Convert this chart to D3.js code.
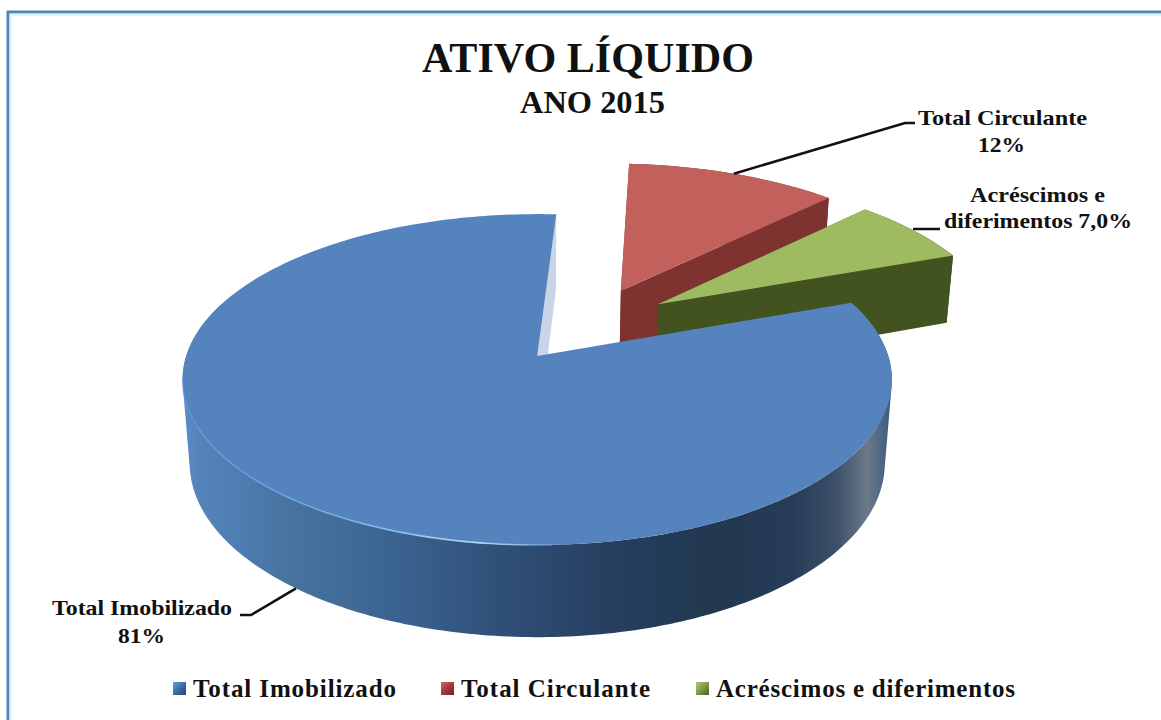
<!DOCTYPE html>
<html>
<head>
<meta charset="utf-8">
<script src="https://cdn.jsdelivr.net/npm/d3@7"></script>
<style>
    html, body { margin: 0; padding: 0; background: #fff; }
    svg { display: block; }
    text { font-family: "Liberation Serif", serif; font-weight: bold; fill: #111; }
</style>
</head>
<body>
<svg width="1161" height="720"></svg>
<script>
var categories = ["Total Imobilizado", "Total Circulante", "Acréscimos e diferimentos"];
// slice sizes as measured on the picture, the printed labels are rounded
var shares = [81.6, 11.6, 6.8];
var shareLabels = ["81%", "12%", "7,0%"];
var titleText = "ATIVO LÍQUIDO";
var subtitleText = "ANO 2015";

var topColors = ["#5583bd", "#c2605c", "#9ebb62"];
var wallColors = ["#c9d5e6", "#7f3331", "#43531f"];

// the picture is a real perspective view, so project the disc instead of using flat ellipses
var focal = 2194, distance = 6.25, tilt = 27.5 * Math.PI / 180, explode = 0.25;
var depths = [0.272, 0.272, 0.235];
var originX = 537, originY = 356, shiftX = 0.15, shiftY = 0.2;
var firstAngle = 69.8 * Math.PI / 180;

function project(x, y, z) {
    var px = x + shiftX, py = y + shiftY;
    var w = distance + py * Math.cos(tilt) - z * Math.sin(tilt);
    var v = py * Math.sin(tilt) + z * Math.cos(tilt);
    return [originX + focal * px / w, originY - focal * v / w];
}

var pie = d3.pie().sort(null)
    .startAngle(firstAngle)
    .endAngle(firstAngle + 2 * Math.PI);
var slices = pie(shares);
var line = d3.line();

function centerOf(s) {
    var mid = (s.startAngle + s.endAngle) / 2;
    return [explode * Math.sin(mid), explode * Math.cos(mid)];
}

function rimPoint(s, a, z) {
    var c = centerOf(s);
    return project(c[0] + Math.sin(a), c[1] + Math.cos(a), z);
}

function apexPoint(s, z) {
    var c = centerOf(s);
    return project(c[0], c[1], z);
}

function rimAngles(a0, a1) {
    var n = Math.max(2, Math.ceil(Math.abs(a1 - a0) * 60));
    return d3.range(n + 1).map(function(i) {
        return a0 + (a1 - a0) * i / n;
    });
}

function rimArc(s, a0, a1, z) {
    return rimAngles(a0, a1).map(function(a) { return rimPoint(s, a, z); });
}

function topPath(s) {
    return line([apexPoint(s, 0)].concat(rimArc(s, s.startAngle, s.endAngle, 0))) + "Z";
}

function wallPath(s, a, h) {
    return line([apexPoint(s, 0), rimPoint(s, a, 0), rimPoint(s, a, -h), apexPoint(s, -h)]) + "Z";
}

// one quad per step, all wound the same way, so the silhouette at the sides gets filled
function sidePath(s, a1, h) {
    var angles = rimAngles(s.startAngle, a1);
    return d3.pairs(angles).map(function(p) {
        var quad = [rimPoint(s, p[0], 0), rimPoint(s, p[1], 0), rimPoint(s, p[1], -h), rimPoint(s, p[0], -h)];
        if (d3.polygonArea(quad) < 0) {
            quad.reverse();
        }
        return line(quad) + "Z";
    }).join("");
}

var svg = d3.select("svg");
var defs = svg.append("defs");

function addGradient(id, stops, x1, x2) {
    var g = defs.append("linearGradient").attr("id", id);
    if (x1 !== undefined) {
        g.attr("gradientUnits", "userSpaceOnUse")
            .attr("x1", x1).attr("x2", x2).attr("y1", 0).attr("y2", 0);
    } else {
        g.attr("x1", 0).attr("y1", 0).attr("x2", 1).attr("y2", 1);
    }
    g.selectAll("stop").data(stops).enter().append("stop")
        .attr("offset", function(d) { return d[0]; })
        .attr("stop-color", function(d) { return d[1]; })
        .attr("stop-opacity", function(d) { return d[2] === undefined ? 1 : d[2]; });
}

addGradient("blueSide", [
    [0, "#5b8ec8"], [0.02, "#5584bb"], [0.07, "#4f7eb3"], [0.16, "#47729f"],
    [0.3, "#3b6390"], [0.45, "#304f78"], [0.6, "#263f60"], [0.75, "#22384f"],
    [0.86, "#263c58"], [0.92, "#3c4f68"], [0.965, "#6b7888"], [1, "#3a5a80"]
], 183, 892);
addGradient("blueEdge", [
    [0, "#5f9fe0", 0.5], [0.3, "#6fb0ea", 0.8], [0.7, "#b5dcf7", 1], [1, "#8fc0ee", 0]
], 187, 600);
addGradient("swatch0", [[0, "#6f9bd0"], [0.5, "#3f6da5"], [1, "#24456f"]]);
addGradient("swatch1", [[0, "#c96a66"], [0.5, "#a53a37"], [1, "#6e1f1e"]]);
addGradient("swatch2", [[0, "#b0c878"], [0.5, "#7d9a45"], [1, "#4a5c24"]]);

// frame: only top and left edges are visible
svg.append("path")
    .attr("d", "M8,720V12H1161")
    .attr("fill", "none")
    .attr("stroke", "#5680b8")
    .attr("stroke-width", 3);
svg.append("path")
    .attr("d", "M10.5,720V14.5H1161")
    .attr("fill", "none")
    .attr("stroke", "#d9f0fb")
    .attr("stroke-width", 2);

// red first, then green, the big slice goes over both
var order = [1, 2, 0];
var pieGroup = svg.append("g");

order.forEach(function(i) {
    var s = slices[i];
    var h = depths[i];
    var g = pieGroup.append("g");
    g.append("path").attr("d", wallPath(s, s.endAngle, h)).attr("fill", wallColors[i]);
    if (i != 0) {
        g.append("path").attr("d", wallPath(s, s.startAngle, h)).attr("fill", wallColors[i]);
        g.append("path").attr("d", sidePath(s, s.endAngle, h)).attr("fill", wallColors[i]);
    } else {
        // back part of the big rim is never seen, stop before it reaches the gap
        g.append("path").attr("d", sidePath(s, 290 * Math.PI / 180, h)).attr("fill", "url(#blueSide)");
    }
    g.append("path").attr("d", topPath(s)).attr("fill", topColors[i]);
});

// highlight on the rounded front edge of the big slice
svg.append("path")
    .attr("d", line(rimArc(slices[0], 262 * Math.PI / 180, 178 * Math.PI / 180, 0)))
    .attr("fill", "none")
    .attr("stroke", "url(#blueEdge)")
    .attr("stroke-width", 1.6);

function midAngle(s) {
    return (s.startAngle + s.endAngle) / 2;
}

// leader lines start on the slices themselves
var leaders = [
    { from: rimPoint(slices[0], midAngle(slices[0]) + 2 * Math.PI / 180, -depths[0]), to: [[251, 615], [240, 615]] },
    { from: rimPoint(slices[1], midAngle(slices[1]), 0), to: [[905, 123], [915, 123]] },
    { from: [913, 229], to: [[940, 229]] }
];

svg.selectAll("path.leader")
    .data(leaders)
    .enter()
    .append("path")
    .attr("class", "leader")
    .attr("d", function(d) { return line([d.from].concat(d.to)); })
    .attr("fill", "none")
    .attr("stroke", "#111")
    .attr("stroke-width", 2.5);

var textRows = [
    [titleText, 422, 72, 43, 332],
    [subtitleText, 520, 113, 31, 145],
    ["Total Circulante", 918, 125, 21, 169],
    [shareLabels[1], 978, 152, 21, 47],
    ["Acréscimos e", 970, 202, 21, 135],
    ["diferimentos " + shareLabels[2], 944, 228, 21, 188],
    ["Total Imobilizado", 52, 615, 21, 180],
    [shareLabels[0], 118, 643, 21, 47]
];

svg.selectAll("text.label")
    .data(textRows)
    .enter()
    .append("text")
    .attr("class", "label")
    .attr("x", function(d) { return d[1]; })
    .attr("y", function(d) { return d[2]; })
    .attr("font-size", function(d) { return d[3]; })
    .attr("textLength", function(d) { return d[4]; })
    .attr("lengthAdjust", "spacingAndGlyphs")
    .text(function(d) { return d[0]; });

var legendX = [173, 441, 696];
var legendWidths = [203, 189, 299];

var legend = svg.selectAll("g.legend")
    .data(categories)
    .enter()
    .append("g")
    .attr("class", "legend")
    .attr("transform", function(d, i) { return "translate(" + legendX[i] + ",682)"; });

legend.append("rect")
    .attr("width", 13)
    .attr("height", 13)
    .attr("fill", function(d, i) { return "url(#swatch" + i + ")"; });

legend.append("text")
    .attr("x", 20)
    .attr("y", 15)
    .attr("font-size", 25)
    .attr("textLength", function(d, i) { return legendWidths[i]; })
    .attr("lengthAdjust", "spacing")
    .text(function(d) { return d; });
</script>
</body>
</html>
